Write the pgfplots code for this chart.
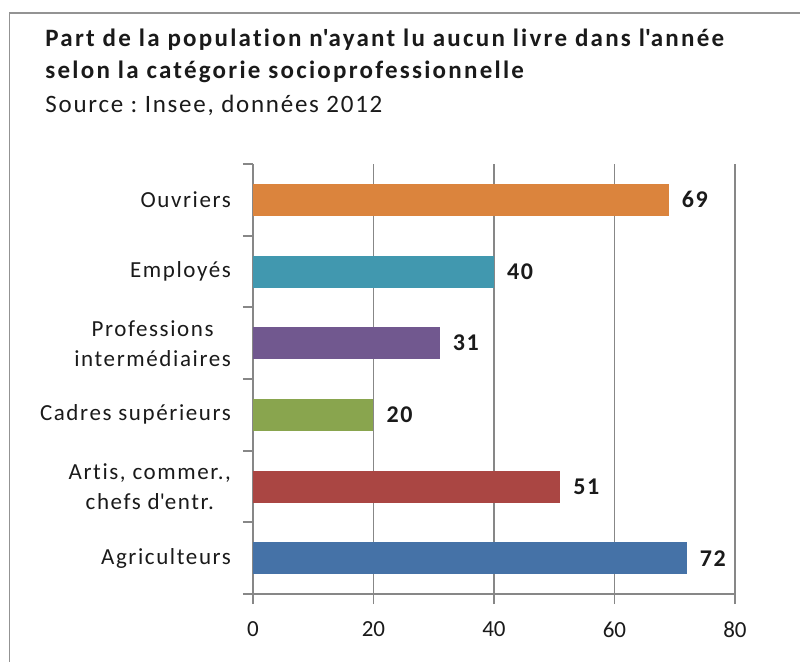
\documentclass[border=0pt]{standalone}
\usepackage{fontspec}
\setmainfont{Carlito}
\newfontfamily\spaced[LetterSpace=7,Ligatures={NoCommon}]{Carlito}
\newfontfamily\spacedT[LetterSpace=9,Ligatures={NoCommon}]{Carlito}
\frenchspacing
\usepackage{pgfplots}
\pgfplotsset{compat=1.18}
\definecolor{cOrange}{HTML}{DB843D}
\definecolor{cTeal}{HTML}{4198AF}
\definecolor{cPurple}{HTML}{71588F}
\definecolor{cGreen}{HTML}{89A54E}
\definecolor{cRed}{HTML}{AA4643}
\definecolor{cBlue}{HTML}{4572A7}
\definecolor{cGrid}{HTML}{878787}
\definecolor{cText}{HTML}{1A1A1A}
\begin{document}
\begin{tikzpicture}
\useasboundingbox (0,0) rectangle (400pt,330.5pt);
\clip (0,0) rectangle (400pt,330.5pt);
\draw[cGrid!90, line width=0.9pt] (4.75pt,-10pt) -- (4.75pt,324pt) -- (410pt,324pt);
\node[anchor=base west, inner sep=0pt, text=cText, font=\spacedT\bfseries\fontsize{12.5}{14}\selectfont] at (22.5pt,307.5pt) {Part de la population n\textquotesingle ayant lu aucun livre dans l\textquotesingle année};
\node[anchor=base west, inner sep=0pt, text=cText, font=\spacedT\bfseries\fontsize{12.5}{14}\selectfont] at (22.5pt,291.5pt) {selon la catégorie socioprofessionnelle};
\node[anchor=base west, inner sep=0pt, text=cText, font=\spaced\fontsize{12.5}{14}\selectfont] at (22.5pt,274.5pt) {Source : Insee, données 2012};
\begin{axis}[
  at={(126.5pt,33.5pt)}, anchor=south west,
  scale only axis, width=241pt, height=215pt,
  xmin=0, xmax=80, ymin=-0.5, ymax=5.5,
  xtick={0,20,40,60,80},
  ytick={-0.5,0.5,1.5,2.5,3.5,4.5,5.5},
  yticklabels={},
  extra y ticks={0,1,2,3,4,5},
  extra y tick labels={Agriculteurs,{Artis, commer.,\\chefs d\textquotesingle entr.},Cadres supérieurs,{Professions\\intermédiaires},Employés,Ouvriers},
  extra y tick style={major tick length=0pt, tick style={draw=none},
    yticklabel style={font=\spaced\fontsize{11.5}{15}\selectfont, text=cText, align=center, xshift=-7.5pt}},
  axis x line*=bottom, axis y line*=left,
  axis line style={cGrid, line width=0.9pt, -},
  xmajorgrids, major grid style={cGrid, line width=0.9pt},
  tick align=outside,
  major tick length=5pt,
  tick style={cGrid, line width=0.9pt},
  /pgf/number format/assume math mode=true,
  xticklabel style={font=\fontsize{11.5}{13}\selectfont, text=cText, yshift=-5.5pt},
  xbar, bar width=16pt, bar shift=0pt,
  nodes near coords,
  every node near coord/.append style={font=\spaced\bfseries\fontsize{12}{14}\selectfont, text=cText, anchor=west, xshift=3pt},
]
\addplot[fill=cBlue, draw=none] coordinates {(72,0)};
\addplot[fill=cRed, draw=none] coordinates {(51,1)};
\addplot[fill=cGreen, draw=none] coordinates {(20,2)};
\addplot[fill=cPurple, draw=none] coordinates {(31,3)};
\addplot[fill=cTeal, draw=none] coordinates {(40,4)};
\addplot[fill=cOrange, draw=none] coordinates {(69,5)};
\end{axis}
\end{tikzpicture}
\end{document}
